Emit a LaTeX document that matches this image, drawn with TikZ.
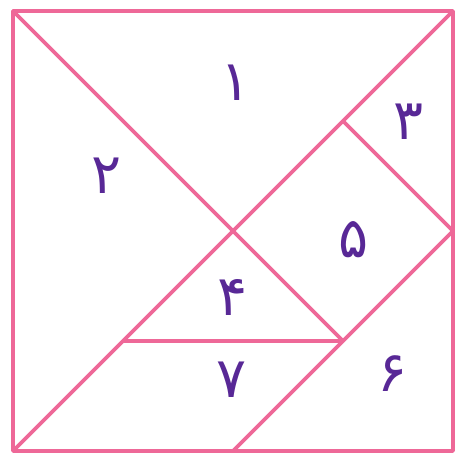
\documentclass[tikz,border=0pt]{standalone}
\usepackage{fontspec}
\newfontfamily\arabicfont[Script=Arabic]{DejaVu Sans}
\usepackage{tikz}
\definecolor{tanpink}{RGB}{238,104,152}
\definecolor{numpurple}{RGB}{88,40,150}

\begin{document}
\begin{tikzpicture}[
        x=27.5pt, y=27.5pt,
        edge/.style={draw=tanpink, line width=1.9pt, line join=round},
        num/.style={text=numpurple, font=\arabicfont\fontsize{28}{28}\selectfont, inner sep=0pt}
    ]
        \useasboundingbox (-0.236,-0.055) rectangle (8.073,8.2);
        % corners and inner points of the tangram
        \coordinate (bl) at (0,0);
        \coordinate (br) at (8,0);
        \coordinate (tr) at (8,8);
        \coordinate (tl) at (0,8);
        \coordinate (mid) at (4,4);
        \coordinate (rmid) at (8,4);
        \coordinate (bmid) at (4,0);
        \coordinate (up) at (6,6);
        \coordinate (lowr) at (6,2);
        \coordinate (lowl) at (2,2);

        \draw[edge] (bl) rectangle (tr);
        \draw[edge] (tl) -- (mid);
        \draw[edge] (bl) -- (tr);
        \draw[edge] (up) -- (rmid);
        \draw[edge] (rmid) -- (bmid);
        \draw[edge] (mid) -- (lowr);
        \draw[edge] (lowl) -- (lowr);

        \node[num] (one) at (4.04,6.7) {۱};
        \node[num] (two) at (1.71,5.0) {۲};
        \node[num] (three) at (7.2,5.98) {۳};
        \node[num] (five) at (6.2,3.85) {۵};
        \node[num] (four) at (4,2.8) {۴};
        \node[num] (seven) at (3.98,1.3) {۷};
        \node[num] (six) at (6.9,1.4) {۶};
    \end{tikzpicture}
\end{document}
